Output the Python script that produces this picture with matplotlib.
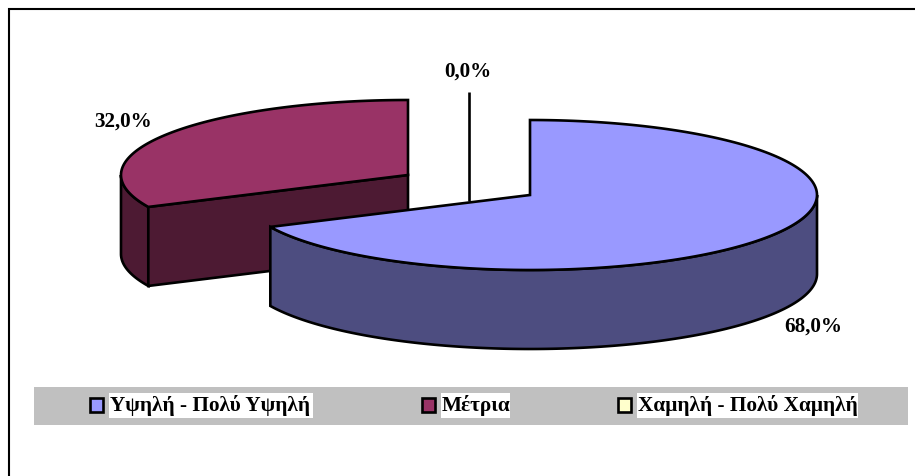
import numpy as np
import matplotlib
matplotlib.use("Agg")
import matplotlib.pyplot as plt
from matplotlib.patches import Polygon, Rectangle

categories = ['Υψηλή - Πολύ Υψηλή', 'Μέτρια', 'Χαμηλή - Πολύ Χαμηλή']
values = [68.0, 32.0, 0.0]
labels = ['68,0%', '32,0%', '0,0%']
top_colors = ['#9999FF', '#993366', '#FFFFCC']
side_colors = ['#4D4D80', '#4D1A33', '#808066']

RX, RY, DEPTH = 287, 75, 79
LW = 1.9

plt.rcParams['font.family'] = ['Liberation Serif', 'DejaVu Serif']

fig = plt.figure(figsize=(9.15, 4.76), dpi=100)
ax = fig.add_axes([0, 0, 1, 1])
ax.set_xlim(0, 915)
ax.set_ylim(476, 0)
ax.axis('off')


# angle is clockwise from 12 o'clock, in degrees
def rim(cx, cy, start, end):
    a = np.radians(np.linspace(start, end, 200))
    return np.column_stack([cx + RX * np.sin(a), cy - RY * np.cos(a)])


def draw_slice(cx, cy, start, end, top, side, z):
    # outer wall, only the part turned towards the viewer
    lo, hi = max(start, 90), min(end, 270)
    if hi > lo:
        arc = rim(cx, cy, lo, hi)
        wall = np.vstack([arc, (arc + [0, DEPTH])[::-1]])
        ax.add_patch(Polygon(wall, closed=True, fc=side, ec='black', lw=LW, zorder=z))
    # cut face on the side of the slice that ends at 'start'
    if start > 180:
        p = rim(cx, cy, start, start)[0]
        face = [p, (cx, cy), (cx, cy + DEPTH), p + [0, DEPTH]]
        ax.add_patch(Polygon(face, closed=True, fc=side, ec='black', lw=LW, zorder=z))
    pts = np.vstack([[(cx, cy)], rim(cx, cy, start, end)])
    ax.add_patch(Polygon(pts, closed=True, fc=top, ec='black', lw=LW, zorder=z + 0.1))


# outer frame, only top and left show
ax.plot([9, 9, 915], [476, 9, 9], color='black', lw=1.5, zorder=1, solid_joinstyle='miter')

# slices, angles taken from the values
total = sum(values)
blue_end = values[0] / total * 360
draw_slice(408, 175, blue_end, 360, top_colors[1], side_colors[1], 1)
ax.plot([469, 469], [92, 201], color='black', lw=1.9, zorder=2, solid_capstyle='butt')
draw_slice(530, 195, 0, blue_end, top_colors[0], side_colors[0], 3)

# data labels
label_pos = [(813, 327), (123, 122), (468, 72)]
for text, (x, y) in zip(labels, label_pos):
    ax.text(x, y, text, ha='center', va='center', fontsize=15.2, fontweight='bold', zorder=5)

# legend band
ax.add_patch(Rectangle((34, 387), 874, 38, fc='#C0C0C0', ec='none', zorder=1))
swatch_x = [90, 422, 618]
box_x = [(109, 313), (441, 510), (637, 858)]
for name, color, sx, (x0, x1) in zip(categories, top_colors, swatch_x, box_x):
    ax.add_patch(Rectangle((sx, 398), 13, 14, fc=color, ec='black', lw=1.9, zorder=5))
    ax.add_patch(Rectangle((x0, 393), x1 - x0, 25, fc='white', ec='none', zorder=5))
    ax.text(x0 + 1, 405.5, name, ha='left', va='center', fontsize=15.3, fontweight='bold', zorder=6)

fig.savefig('out.png', dpi=100)
